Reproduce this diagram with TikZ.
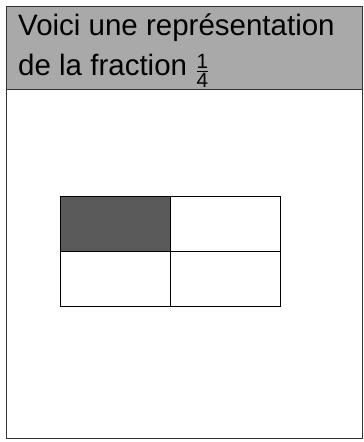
\documentclass[tikz,border=0pt]{standalone}
\usepackage{amsmath}
\usepackage{fontspec}
\setmainfont{Liberation Sans}
\usetikzlibrary{positioning}
\definecolor{bandgray}{HTML}{A9A9A9}
\definecolor{cellgray}{HTML}{5A5A5A}
\tikzset{
    cell/.style={draw, thick, minimum width=110pt, minimum height=55pt, inner sep=0pt, outer sep=0pt},
    title/.style={anchor=base west, inner sep=0pt, font=\fontsize{29.5}{32}\selectfont}
}
\begin{document}
\begin{tikzpicture}[x=1pt, y=-1pt]
    \useasboundingbox (0,0) rectangle (364,442);
    % header band and frame
    \fill[bandgray] (6,6) rectangle (362,89);
    \draw[thick, black!80] (6,6) rectangle (362,438);
    \draw[thick, black!80] (6,89) -- (362,89);
    \node[title] (l1) at (18,35) {Voici une représentation};
    \node[title] (l2) at (18,75) {de la fraction \raisebox{-3pt}{$\frac{\text{1}}{\text{4}}$}};

    % the four parts
    \node[cell, fill=cellgray, anchor=north west] (c1) at (60,196) {};
    \node[cell, right=0pt of c1] (c2) {};
    \node[cell, below=0pt of c1] (c3) {};
    \node[cell, right=0pt of c3] (c4) {};
\end{tikzpicture}
\end{document}
